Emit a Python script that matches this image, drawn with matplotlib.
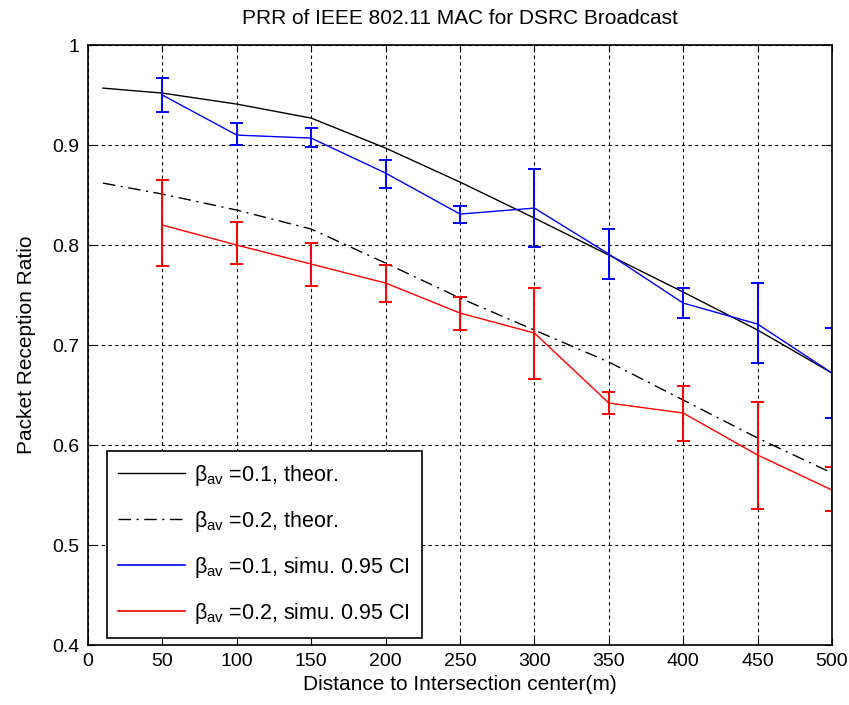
import numpy as np
import matplotlib.pyplot as plt
from matplotlib.lines import Line2D

plt.rcParams['font.family'] = ['Liberation Sans', 'DejaVu Sans']
plt.rcParams['mathtext.fontset'] = 'custom'
plt.rcParams['mathtext.rm'] = 'Liberation Sans'
plt.rcParams['mathtext.it'] = 'Liberation Sans'

# theoretical curves
x_theo = [10, 50, 100, 150, 200, 250, 300, 350, 400, 450, 500]
theo_01 = [0.957, 0.952, 0.941, 0.927, 0.897, 0.863, 0.827, 0.790, 0.753, 0.715, 0.672]
theo_02 = [0.862, 0.851, 0.835, 0.816, 0.782, 0.747, 0.715, 0.683, 0.645, 0.607, 0.572]

# simulation with 0.95 CI
x_sim = [50, 100, 150, 200, 250, 300, 350, 400, 450, 500]
sim_01 = [0.950, 0.910, 0.907, 0.872, 0.831, 0.837, 0.791, 0.742, 0.721, 0.672]
sim_01_lo = [0.933, 0.900, 0.898, 0.857, 0.822, 0.798, 0.766, 0.727, 0.682, 0.627]
sim_01_hi = [0.967, 0.922, 0.917, 0.885, 0.839, 0.876, 0.816, 0.757, 0.762, 0.717]
sim_02 = [0.820, 0.800, 0.781, 0.762, 0.732, 0.712, 0.642, 0.632, 0.590, 0.555]
sim_02_lo = [0.779, 0.781, 0.759, 0.743, 0.715, 0.666, 0.631, 0.604, 0.536, 0.534]
sim_02_hi = [0.865, 0.823, 0.802, 0.780, 0.748, 0.757, 0.653, 0.659, 0.643, 0.578]

labels = [r'$\beta_{av}$ =0.1, theor.', r'$\beta_{av}$ =0.2, theor.',
          r'$\beta_{av}$ =0.1, simu. 0.95 CI', r'$\beta_{av}$ =0.2, simu. 0.95 CI']

dashdot = (0, (9, 4, 1.5, 4))
cap = 4.4  # half width of the caps, in x units

fig = plt.figure(figsize=(8.49, 7.05), dpi=100)
ax = fig.add_axes([0.1037, 0.0851, 0.8763, 0.8509])

ax.plot(x_theo, theo_01, color='black', linewidth=1)
ax.plot(x_theo, theo_02, color='black', linewidth=1, linestyle=dashdot)

xs = np.array(x_sim)
for mid, lo, hi, c in [(sim_01, sim_01_lo, sim_01_hi, 'blue'),
                       (sim_02, sim_02_lo, sim_02_hi, 'red')]:
    ax.plot(x_sim, mid, color=c, linewidth=1)
    ax.vlines(x_sim, lo, hi, color=c, linewidth=1.4)
    for yy in (lo, hi):
        caps = ax.hlines(yy, xs - cap, xs + cap, color=c, linewidth=1.4)
        caps.set_clip_path(ax.patch)

ax.set_xlim(0, 500)
ax.set_ylim(0.4, 1)
ax.set_xticks(range(0, 501, 50))
ax.set_yticks([0.4, 0.5, 0.6, 0.7, 0.8, 0.9, 1.0])
ax.set_yticklabels(['0.4', '0.5', '0.6', '0.7', '0.8', '0.9', '1'])
ax.grid(True, color='black', linestyle=(0, (3, 3)), linewidth=0.8)
ax.tick_params(direction='in', top=True, right=True, labelsize=14, length=5, pad=6)
for s in ax.spines.values():
    s.set_linewidth(1.2)

ax.set_title('PRR of IEEE 802.11 MAC for DSRC Broadcast', fontsize=15, pad=15)
ax.set_xlabel('Distance to Intersection center(m)', fontsize=15, labelpad=3)
ax.set_ylabel('Packet Reception Ratio', fontsize=15, labelpad=12)

handles = [Line2D([], [], color='black', linewidth=1),
           Line2D([], [], color='black', linewidth=1, linestyle=dashdot),
           Line2D([], [], color='blue', linewidth=1.2),
           Line2D([], [], color='red', linewidth=1.2)]
leg = ax.legend(handles, labels, loc='lower left', bbox_to_anchor=(0.025, 0.012), fontsize=15.5,
                frameon=True, fancybox=False, edgecolor='black', framealpha=1,
                handlelength=3.1, handletextpad=0.4, labelspacing=0.98, borderpad=0.55,
                borderaxespad=0)
leg.get_frame().set_linewidth(1.2)

fig.savefig('out.png', dpi=100)
